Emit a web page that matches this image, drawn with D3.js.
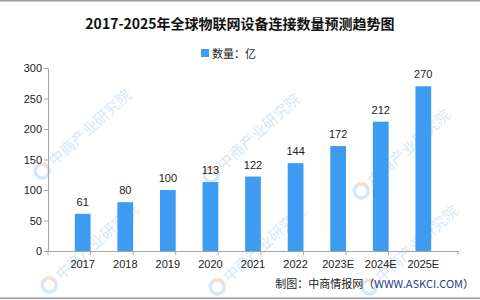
<!DOCTYPE html>
<html lang="zh">
<head>
<meta charset="utf-8" />
<title>2017-2025年全球物联网设备连接数量预测趋势图</title>
<script src="https://d3js.org/d3.v7.min.js"></script>
<style>
  body { margin: 0; background: #ffffff; }
  svg  { display: block; font-family: "Liberation Sans", Arial, sans-serif; }
  .title { font-family: "Noto Sans CJK SC", serif; font-weight: 700; font-size: 14px; fill: #111; }
  .axis path, .axis line { stroke: #a6a6a6; }
  .axis text { font-size: 11px; fill: #222; }
  .val { font-size: 11px; fill: #222; text-anchor: middle; }
  .wm  { font-family: "Noto Sans CJK SC", sans-serif; font-size: 15px; fill: #d6e8f7; }
</style>
</head>
<body>
<svg id="chart" width="480" height="300"></svg>
<script>
// data
const years  = ["2017", "2018", "2019", "2020", "2021", "2022", "2023E", "2024E", "2025E"];
const counts = [61, 80, 100, 113, 122, 144, 172, 212, 270];
const yTicks = [0, 50, 100, 150, 200, 250, 300];

const W = 480, H = 300;
const margin = { top: 68, right: 22, bottom: 49, left: 48 };
const svg = d3.select("#chart");

// frame lines top / bottom
svg.append("rect").attr("x", 0).attr("y", 0).attr("width", W).attr("height", 1.5).attr("fill", "#9a9a9a");
svg.append("rect").attr("x", 0).attr("y", 297.5).attr("width", W).attr("height", 1.5).attr("fill", "#9a9a9a");

// watermark (behind everything)
const wmSpots = [[53, 168], [60, 282], [222, 172], [228, 284], [372, 188], [380, 284]];
const wm = svg.append("g");
wmSpots.forEach(([x, y]) => {
  const g = wm.append("g").attr("transform", `translate(${x},${y}) rotate(-42)`);
  g.append("circle").attr("cx", -10).attr("cy", -5).attr("r", 7)
    .attr("fill", "none").attr("stroke", "#d6e8f7").attr("stroke-width", 3.5);
  g.append("path").attr("d", "M-10,-12 A7,7 0 0 1 -3,-5").attr("fill", "none")
    .attr("stroke", "#f9ddd0").attr("stroke-width", 3.5);
  g.append("text").attr("class", "wm").attr("x", 2).attr("y", 0).text("中商产业研究院");
});

const x = d3.scaleBand().domain(years).range([margin.left, W - margin.right]).padding(0.63);
const y = d3.scaleLinear().domain([0, 300]).range([H - margin.bottom, margin.top]);

// title
svg.append("text").attr("class", "title").attr("x", 240).attr("y", 29)
  .attr("text-anchor", "middle").text("2017-2025年全球物联网设备连接数量预测趋势图");

// legend
svg.append("rect").attr("x", 201).attr("y", 49).attr("width", 8).attr("height", 8).attr("fill", "#3d9bf2");
svg.append("text").attr("x", 212).attr("y", 57.5)
  .style("font-family", "'Noto Sans CJK SC', sans-serif").style("font-size", "11px").attr("fill", "#222")
  .text("数量：亿");

// axes
svg.append("g").attr("class", "axis")
  .attr("transform", `translate(${margin.left},0)`)
  .call(d3.axisLeft(y).tickValues(yTicks).tickSize(4).tickSizeOuter(0).tickPadding(2));

const xAxis = svg.append("g").attr("class", "axis")
  .attr("transform", `translate(0,${H - margin.bottom})`)
  .call(d3.axisBottom(x).tickSize(0).tickPadding(9));
// tick marks at band boundaries
const edges = years.map((d, i) => margin.left + i * x.step()).concat([W - margin.right]);
xAxis.selectAll("line.edge").data(edges).enter().append("line").attr("class", "edge")
  .attr("x1", d => d).attr("x2", d => d).attr("y1", 0).attr("y2", 4);

// bars
svg.append("g").selectAll("rect").data(counts).enter().append("rect")
  .attr("x", (d, i) => x(years[i]))
  .attr("y", d => y(d))
  .attr("width", x.bandwidth())
  .attr("height", d => y(0) - y(d))
  .attr("fill", "#3d9bf2");

// value labels
svg.append("g").selectAll("text").data(counts).enter().append("text")
  .attr("class", "val")
  .attr("x", (d, i) => x(years[i]) + x.bandwidth() / 2)
  .attr("y", d => y(d) - 8)
  .text(d => d);

// source note
const src = svg.append("text").attr("x", 474).attr("y", 288).attr("text-anchor", "end")
  .style("font-family", "'Noto Sans CJK SC', sans-serif").style("font-size", "11px").attr("fill", "#222");
src.append("tspan").text("制图：中商情报网（");
src.append("tspan").attr("fill", "#1f3f8f").text("WWW.ASKCI.COM");
src.append("tspan").text("）");
</script>
</body>
</html>
